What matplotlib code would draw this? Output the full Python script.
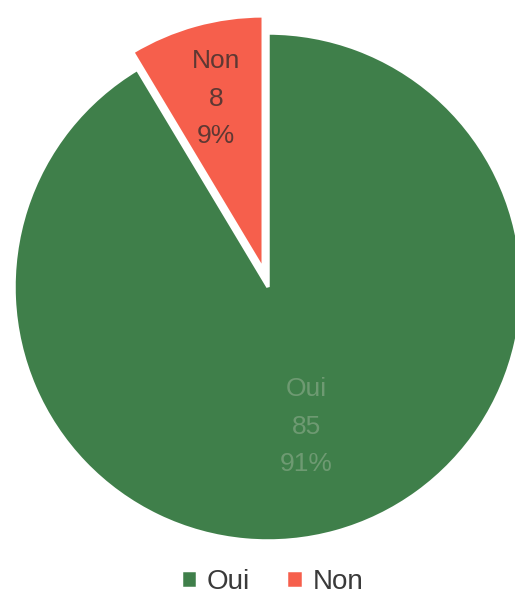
"""
Pie chart of Oui / Non answers, Non wedge pulled out at the top.
"""
import matplotlib.pyplot as plt
import numpy as np

labels = ["Oui", "Non"]
counts = [85, 8]
percents = [91, 9]
colors = ["#3f7f4a", "#f65f4c"]
label_colors = ["#6e9a72", "#5e3833"]
label_radius = [0.57, 0.70]
explode = [0.0, 0.07]

plt.rcParams["font.family"] = ["Liberation Sans", "DejaVu Sans"]

fig = plt.figure(figsize=(5.15, 5.98), dpi=100)
ax = fig.add_axes([14 / 515, 57 / 598, 508 / 515, 508 / 598])

wedges, _ = ax.pie(counts, colors=colors, startangle=90, counterclock=False,
                   explode=explode, wedgeprops=dict(edgecolor="white", linewidth=2.5))
for w in wedges:
    w.set_clip_on(False)

# labels: name, count, percent, placed along each wedge's bisector
for w, name, n, pct, col, r, ex in zip(wedges, labels, counts, percents,
                                       label_colors, label_radius, explode):
    mid = np.deg2rad((w.theta1 + w.theta2) / 2)
    x = (r + ex) * np.cos(mid)
    y = (r + ex) * np.sin(mid)
    ax.text(x, y, f"{name}\n{n}\n{pct}%", ha="center", va="center",
            fontsize=19, color=col, linespacing=1.72)

ax.set_xlim(-1, 1)
ax.set_ylim(-1, 1)
ax.set_aspect("equal")
ax.axis("off")

fig.legend(wedges, labels, loc="center", bbox_to_anchor=(272 / 515, 1 - 582 / 598),
           ncol=2, frameon=False, fontsize=20, handlelength=0.6, handleheight=0.6,
           handletextpad=0.35, columnspacing=1.3, labelcolor="#3a3a3a")

fig.savefig("out.png", dpi=100)
